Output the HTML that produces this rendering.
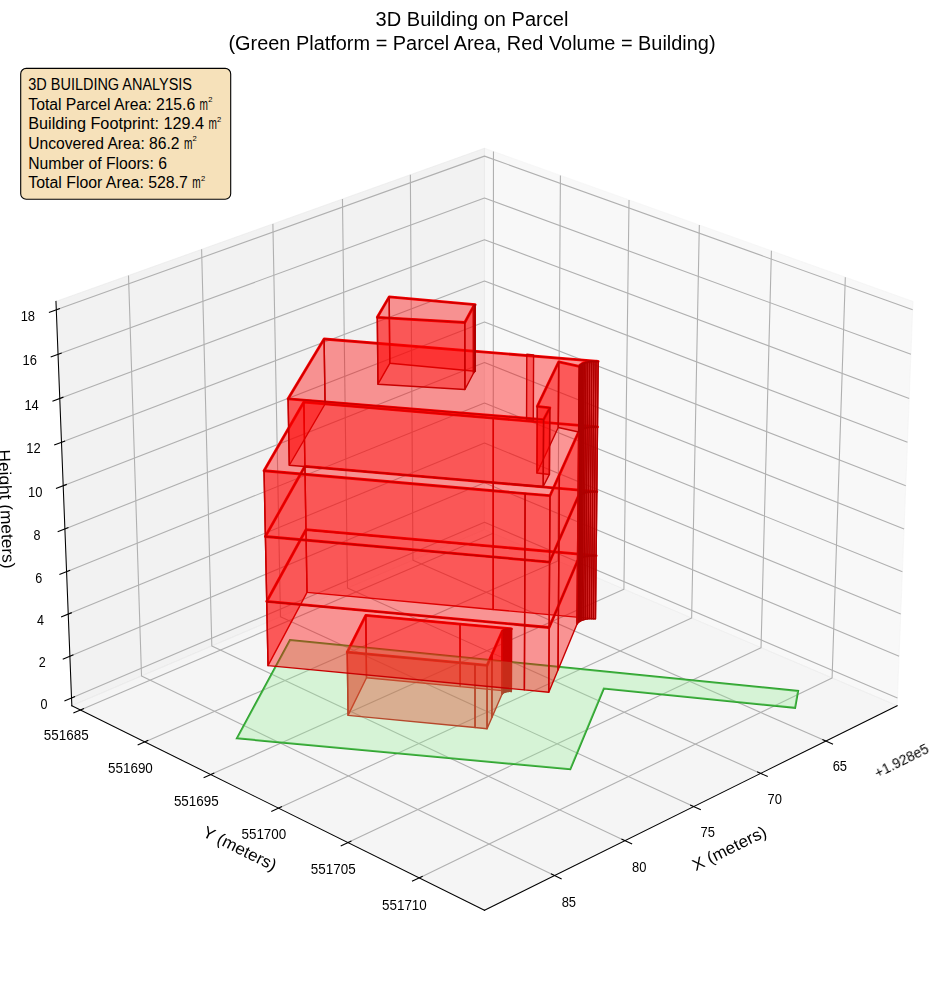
<!DOCTYPE html>
<html><head><meta charset="utf-8"><title>3D Building on Parcel</title>
<style>html,body{margin:0;padding:0;background:#fff}body{width:944px;height:992px;overflow:hidden;font-family:"Liberation Sans",sans-serif}svg{display:block}text{white-space:pre}</style>
</head><body>
<svg width="944" height="992" viewBox="0 0 944 992" font-family="Liberation Sans, sans-serif" fill="#000">
<rect width="944" height="992" fill="#fff"/>
<g id="panes">
<polygon points="484.49,529.66 897.14,705.72 913.01,301.42 484.49,148.24" fill="#f2f2f2" fill-opacity="0.5" stroke="#f2f2f2" stroke-opacity="0.5" stroke-width="1"/>
<polygon points="484.49,529.66 71.83,705.72 55.96,301.42 484.49,148.24" fill="#e6e6e6" fill-opacity="0.5" stroke="#e6e6e6" stroke-opacity="0.5" stroke-width="1"/>
<polygon points="484.49,529.66 71.83,705.72 484.49,910.29 897.14,705.72" fill="#ececec" fill-opacity="0.5" stroke="#ececec" stroke-opacity="0.5" stroke-width="1"/>
<path d="M825.93,741.03 L412.94,560.19 L410.36,174.74 M760.65,773.39 L347.48,588.12 L342.46,199.01 M693.69,806.58 L280.46,616.71 L272.89,223.87 M625,840.63 L211.82,645.99 L201.6,249.36 M554.51,875.58 L141.53,675.99 L128.5,275.49" fill="none" stroke="#b0b0b0" stroke-width="1.1" stroke-linejoin="round"/>
<path d="M493.47,151.45 L493.16,533.36 L80.45,710 M560.42,175.38 L557.77,560.93 L144.78,741.89 M629.03,199.9 L623.92,589.15 L210.74,774.59 M699.33,225.04 L691.65,618.05 L278.41,808.13 M771.41,250.8 L761.03,647.65 L347.86,842.56 M845.32,277.22 L832.1,677.97 L419.14,877.9" fill="none" stroke="#b0b0b0" stroke-width="1.1" stroke-linejoin="round"/>
<path d="M71.52,697.93 L484.49,522.29 L897.45,697.93 M69.89,656.18 L484.49,482.81 L899.09,656.18 M68.23,614.09 L484.49,443.03 L900.74,614.09 M66.57,571.66 L484.49,402.96 L902.41,571.66 M64.89,528.9 L484.49,362.59 L904.08,528.9 M63.2,485.79 L484.49,321.92 L905.78,485.79 M61.49,442.33 L484.49,280.94 L907.48,442.33 M59.77,398.51 L484.49,239.65 L909.2,398.51 M58.04,354.34 L484.49,198.05 L910.94,354.34 M56.29,309.81 L484.49,156.13 L912.68,309.81" fill="none" stroke="#b0b0b0" stroke-width="1.1" stroke-linejoin="round"/>
</g>
<g id="axes">
<path d="M897.14,705.72L484.49,910.29" stroke="#000" stroke-width="1.05" fill="none" stroke-linecap="square"/>
<path d="M822.38,739.47L833.05,744.14 M757.09,771.79L767.77,776.59 M690.13,804.94L700.83,809.86 M621.44,838.95L632.14,844 M550.94,873.85L561.65,879.03" stroke="#000" stroke-width="1.1" fill="none"/>
<path d="M71.83,705.72L484.49,910.29" stroke="#000" stroke-width="1.05" fill="none" stroke-linecap="square"/>
<path d="M84,708.48L73.35,713.04 M148.33,740.33L137.66,745.01 M214.3,772.99L203.62,777.79 M281.98,806.5L271.28,811.42 M351.42,840.88L340.71,845.93 M422.7,876.17L411.99,881.35" stroke="#000" stroke-width="1.1" fill="none"/>
<path d="M71.83,705.72L55.96,301.42" stroke="#000" stroke-width="1.05" fill="none" stroke-linecap="square"/>
<path d="M75.07,696.42L64.41,700.96 M73.45,654.69L62.74,659.16 M71.81,612.62L61.06,617.03 M70.16,570.21L59.37,574.57 M68.5,527.47L57.66,531.76 M66.82,484.38L55.93,488.61 M65.13,440.94L54.19,445.11 M63.43,397.14L52.44,401.25 M61.71,352.99L50.68,357.04 M59.98,308.48L48.9,312.46" stroke="#000" stroke-width="1.1" fill="none"/>
</g>
<g id="outlines">
<polygon points="236.9,738.3 570.3,769.3 603.8,688.6 795.1,707.8 798.1,690.9 290,640" fill="none" stroke="#2ca02c" stroke-width="2.0" stroke-linejoin="miter"/>
<polygon points="347.23,652.22 474.99,664.21 487.08,665.34 491.97,654.35 502.11,631.54 502.38,631.09 502.78,630.66 503.3,630.26 503.94,629.89 504.68,629.57 505.51,629.29 506.41,629.06 507.38,628.88 508.4,628.77 509.43,628.71 510.48,628.71 511.52,628.78 460.03,624.02 365.81,615.31" fill="none" stroke="#ff0000" stroke-width="2.8" stroke-linejoin="round"/>
<polygon points="266.72,601.46 524.63,625.24 549.17,627.5 558.47,605.68 577.5,561 578.02,560.12 578.79,559.29 579.81,558.51 581.06,557.8 582.52,557.16 584.16,556.62 585.95,556.17 587.87,555.84 589.89,555.61 591.96,555.5 594.05,555.51 596.13,555.63 493.22,546.44 305.97,529.71" fill="none" stroke="#ff0000" stroke-width="2.8" stroke-linejoin="round"/>
<polygon points="265.39,536.51 524.88,559.8 549.57,562.02 558.92,540.64 578.06,496.9 578.58,496.04 579.36,495.23 580.38,494.46 581.64,493.76 583.11,493.14 584.76,492.61 586.56,492.18 588.49,491.85 590.52,491.62 592.6,491.52 594.71,491.52 596.8,491.65 493.27,482.65 304.91,466.27" fill="none" stroke="#ff0000" stroke-width="2.8" stroke-linejoin="round"/>
<polygon points="264.04,470.76 525.13,493.55 549.98,495.71 559.38,474.81 578.63,432.02 579.15,431.19 579.93,430.39 580.96,429.64 582.23,428.96 583.7,428.35 585.36,427.83 587.18,427.41 589.12,427.08 591.16,426.87 593.25,426.76 595.37,426.77 597.48,426.89 493.33,418.09 303.84,402.07" fill="none" stroke="#ff0000" stroke-width="2.8" stroke-linejoin="round"/>
<polygon points="288.1,398.8 543.6,419.6 549.8,407.8 537.3,406.4 558.7,361.9 579.2,366.36 579.72,365.54 580.51,364.76 581.55,364.03 582.82,363.36 584.3,362.77 585.97,362.26 587.8,361.85 589.76,361.53 591.81,361.32 593.92,361.22 596.05,361.23 598.16,361.34 324.1,339" fill="none" stroke="#ff0000" stroke-width="2.8" stroke-linejoin="round"/>
<polygon points="377.3,317.3 464.8,322.5 473.4,306.6 474.2,305.4 475.2,304.7 389.2,296.9" fill="none" stroke="#ff0000" stroke-width="2.8" stroke-linejoin="round"/>
</g>
<g id="building">
<g class="annex">
<polygon points="460.17,686.6 366.51,677.73 365.81,615.31 460.03,624.02" fill="#ff0000" fill-opacity="0.4" stroke="#c80000" stroke-width="1.4" stroke-linejoin="round"/>
<polygon points="511.36,691.46 460.17,686.6 460.03,624.02 511.52,628.78" fill="#ff0000" fill-opacity="0.4" stroke="#c80000" stroke-width="1.4" stroke-linejoin="round"/>
<polygon points="509.29,691.38 510.33,691.39 510.48,628.71 509.43,628.71" fill="#ff0000" fill-opacity="0.4" stroke="#ad0000" stroke-width="1.4" stroke-linejoin="round"/>
<polygon points="508.25,691.44 509.29,691.38 509.43,628.71 508.4,628.77" fill="#ff0000" fill-opacity="0.4" stroke="#ad0000" stroke-width="1.4" stroke-linejoin="round"/>
<polygon points="510.33,691.39 511.36,691.46 511.52,628.78 510.48,628.71" fill="#ff0000" fill-opacity="0.4" stroke="#ad0000" stroke-width="1.4" stroke-linejoin="round"/>
<polygon points="507.25,691.56 508.25,691.44 508.4,628.77 507.38,628.88" fill="#ff0000" fill-opacity="0.4" stroke="#ad0000" stroke-width="1.4" stroke-linejoin="round"/>
<polygon points="506.28,691.74 507.25,691.56 507.38,628.88 506.41,629.06" fill="#ff0000" fill-opacity="0.4" stroke="#ad0000" stroke-width="1.4" stroke-linejoin="round"/>
<polygon points="505.38,691.97 506.28,691.74 506.41,629.06 505.51,629.29" fill="#ff0000" fill-opacity="0.4" stroke="#ad0000" stroke-width="1.4" stroke-linejoin="round"/>
<polygon points="504.56,692.26 505.38,691.97 505.51,629.29 504.68,629.57" fill="#ff0000" fill-opacity="0.4" stroke="#ad0000" stroke-width="1.4" stroke-linejoin="round"/>
<polygon points="503.82,692.59 504.56,692.26 504.68,629.57 503.94,629.89" fill="#ff0000" fill-opacity="0.4" stroke="#ad0000" stroke-width="1.4" stroke-linejoin="round"/>
<polygon points="503.19,692.97 503.82,692.59 503.94,629.89 503.3,630.26" fill="#ff0000" fill-opacity="0.4" stroke="#ad0000" stroke-width="1.4" stroke-linejoin="round"/>
<polygon points="502.67,693.38 503.19,692.97 503.3,630.26 502.78,630.66" fill="#ff0000" fill-opacity="0.4" stroke="#ad0000" stroke-width="1.4" stroke-linejoin="round"/>
<polygon points="502.27,693.82 502.67,693.38 502.78,630.66 502.38,631.09" fill="#ff0000" fill-opacity="0.4" stroke="#ad0000" stroke-width="1.4" stroke-linejoin="round"/>
<polygon points="502,694.28 502.27,693.82 502.38,631.09 502.11,631.54" fill="#ff0000" fill-opacity="0.4" stroke="#ad0000" stroke-width="1.4" stroke-linejoin="round"/>
<polygon points="366.51,677.73 348.05,715.35 347.23,652.22 365.81,615.31" fill="#ff0000" fill-opacity="0.4" stroke="#c80000" stroke-width="1.4" stroke-linejoin="round"/>
<polygon points="491.92,717.53 502,694.28 502.11,631.54 491.97,654.35" fill="#ff0000" fill-opacity="0.4" stroke="#c80000" stroke-width="1.4" stroke-linejoin="round"/>
<polygon points="348.05,715.35 475.05,727.57 474.99,664.21 347.23,652.22" fill="#ff0000" fill-opacity="0.4" stroke="#c80000" stroke-width="1.4" stroke-linejoin="round"/>
<polygon points="487.07,728.73 491.92,717.53 491.97,654.35 487.08,665.34" fill="#ff0000" fill-opacity="0.4" stroke="#c80000" stroke-width="1.4" stroke-linejoin="round"/>
<polygon points="475.05,727.57 487.07,728.73 487.08,665.34 474.99,664.21" fill="#ff0000" fill-opacity="0.4" stroke="#c80000" stroke-width="1.4" stroke-linejoin="round"/>
</g>
<g id="parcel">
<polygon points="236.9,738.3 570.3,769.3 603.8,688.6 795.1,707.8 798.1,690.9 290,640" fill="#90ee90" fill-opacity="0.3"/>
</g>
<g class="main">
<polygon points="493.17,609.48 307.02,592.4 305.97,529.71 493.22,546.44" fill="#ff0000" fill-opacity="0.4" stroke="#c80000" stroke-width="1.4" stroke-linejoin="round"/>
<polygon points="595.47,618.86 493.17,609.48 493.22,546.44 596.13,555.63" fill="#ff0000" fill-opacity="0.4" stroke="#c80000" stroke-width="1.4" stroke-linejoin="round"/>
<polygon points="591.32,618.73 593.4,618.73 594.05,555.51 591.96,555.5" fill="#ff0000" fill-opacity="0.4" stroke="#ad0000" stroke-width="1.4" stroke-linejoin="round"/>
<polygon points="589.26,618.84 591.32,618.73 591.96,555.5 589.89,555.61" fill="#ff0000" fill-opacity="0.4" stroke="#ad0000" stroke-width="1.4" stroke-linejoin="round"/>
<polygon points="593.4,618.73 595.47,618.86 596.13,555.63 594.05,555.51" fill="#ff0000" fill-opacity="0.4" stroke="#ad0000" stroke-width="1.4" stroke-linejoin="round"/>
<polygon points="587.26,619.07 589.26,618.84 589.89,555.61 587.87,555.84" fill="#ff0000" fill-opacity="0.4" stroke="#ad0000" stroke-width="1.4" stroke-linejoin="round"/>
<polygon points="585.35,619.41 587.26,619.07 587.87,555.84 585.95,556.17" fill="#ff0000" fill-opacity="0.4" stroke="#ad0000" stroke-width="1.4" stroke-linejoin="round"/>
<polygon points="583.57,619.87 585.35,619.41 585.95,556.17 584.16,556.62" fill="#ff0000" fill-opacity="0.4" stroke="#ad0000" stroke-width="1.4" stroke-linejoin="round"/>
<polygon points="581.93,620.42 583.57,619.87 584.16,556.62 582.52,557.16" fill="#ff0000" fill-opacity="0.4" stroke="#ad0000" stroke-width="1.4" stroke-linejoin="round"/>
<polygon points="580.49,621.07 581.93,620.42 582.52,557.16 581.06,557.8" fill="#ff0000" fill-opacity="0.4" stroke="#ad0000" stroke-width="1.4" stroke-linejoin="round"/>
<polygon points="579.24,621.8 580.49,621.07 581.06,557.8 579.81,558.51" fill="#ff0000" fill-opacity="0.4" stroke="#ad0000" stroke-width="1.4" stroke-linejoin="round"/>
<polygon points="578.23,622.59 579.24,621.8 579.81,558.51 578.79,559.29" fill="#ff0000" fill-opacity="0.4" stroke="#ad0000" stroke-width="1.4" stroke-linejoin="round"/>
<polygon points="577.46,623.44 578.23,622.59 578.79,559.29 578.02,560.12" fill="#ff0000" fill-opacity="0.4" stroke="#ad0000" stroke-width="1.4" stroke-linejoin="round"/>
<polygon points="576.95,624.33 577.46,623.44 578.02,560.12 577.5,561" fill="#ff0000" fill-opacity="0.4" stroke="#ad0000" stroke-width="1.4" stroke-linejoin="round"/>
<polygon points="307.02,592.4 268.03,665.62 266.72,601.46 305.97,529.71" fill="#ff0000" fill-opacity="0.4" stroke="#c80000" stroke-width="1.4" stroke-linejoin="round"/>
<polygon points="558.02,669.92 576.95,624.33 577.5,561 558.47,605.68" fill="#ff0000" fill-opacity="0.4" stroke="#c80000" stroke-width="1.4" stroke-linejoin="round"/>
<polygon points="268.03,665.62 524.38,689.88 524.63,625.24 266.72,601.46" fill="#ff0000" fill-opacity="0.4" stroke="#c80000" stroke-width="1.4" stroke-linejoin="round"/>
<polygon points="548.78,692.19 558.02,669.92 558.47,605.68 549.17,627.5" fill="#ff0000" fill-opacity="0.4" stroke="#c80000" stroke-width="1.4" stroke-linejoin="round"/>
<polygon points="524.38,689.88 548.78,692.19 549.17,627.5 524.63,625.24" fill="#ff0000" fill-opacity="0.4" stroke="#c80000" stroke-width="1.4" stroke-linejoin="round"/>
</g>
<g class="main">
<polygon points="493.22,546.44 305.97,529.71 304.91,466.27 493.27,482.65" fill="#ff0000" fill-opacity="0.4" stroke="#c80000" stroke-width="1.4" stroke-linejoin="round"/>
<polygon points="596.13,555.63 493.22,546.44 493.27,482.65 596.8,491.65" fill="#ff0000" fill-opacity="0.4" stroke="#c80000" stroke-width="1.4" stroke-linejoin="round"/>
<polygon points="591.96,555.5 594.05,555.51 594.71,491.52 592.6,491.52" fill="#ff0000" fill-opacity="0.4" stroke="#ad0000" stroke-width="1.4" stroke-linejoin="round"/>
<polygon points="589.89,555.61 591.96,555.5 592.6,491.52 590.52,491.62" fill="#ff0000" fill-opacity="0.4" stroke="#ad0000" stroke-width="1.4" stroke-linejoin="round"/>
<polygon points="594.05,555.51 596.13,555.63 596.8,491.65 594.71,491.52" fill="#ff0000" fill-opacity="0.4" stroke="#ad0000" stroke-width="1.4" stroke-linejoin="round"/>
<polygon points="587.87,555.84 589.89,555.61 590.52,491.62 588.49,491.85" fill="#ff0000" fill-opacity="0.4" stroke="#ad0000" stroke-width="1.4" stroke-linejoin="round"/>
<polygon points="585.95,556.17 587.87,555.84 588.49,491.85 586.56,492.18" fill="#ff0000" fill-opacity="0.4" stroke="#ad0000" stroke-width="1.4" stroke-linejoin="round"/>
<polygon points="584.16,556.62 585.95,556.17 586.56,492.18 584.76,492.61" fill="#ff0000" fill-opacity="0.4" stroke="#ad0000" stroke-width="1.4" stroke-linejoin="round"/>
<polygon points="582.52,557.16 584.16,556.62 584.76,492.61 583.11,493.14" fill="#ff0000" fill-opacity="0.4" stroke="#ad0000" stroke-width="1.4" stroke-linejoin="round"/>
<polygon points="581.06,557.8 582.52,557.16 583.11,493.14 581.64,493.76" fill="#ff0000" fill-opacity="0.4" stroke="#ad0000" stroke-width="1.4" stroke-linejoin="round"/>
<polygon points="579.81,558.51 581.06,557.8 581.64,493.76 580.38,494.46" fill="#ff0000" fill-opacity="0.4" stroke="#ad0000" stroke-width="1.4" stroke-linejoin="round"/>
<polygon points="578.79,559.29 579.81,558.51 580.38,494.46 579.36,495.23" fill="#ff0000" fill-opacity="0.4" stroke="#ad0000" stroke-width="1.4" stroke-linejoin="round"/>
<polygon points="578.02,560.12 578.79,559.29 579.36,495.23 578.58,496.04" fill="#ff0000" fill-opacity="0.4" stroke="#ad0000" stroke-width="1.4" stroke-linejoin="round"/>
<polygon points="577.5,561 578.02,560.12 578.58,496.04 578.06,496.9" fill="#ff0000" fill-opacity="0.4" stroke="#ad0000" stroke-width="1.4" stroke-linejoin="round"/>
<polygon points="305.97,529.71 266.72,601.46 265.39,536.51 304.91,466.27" fill="#ff0000" fill-opacity="0.4" stroke="#c80000" stroke-width="1.4" stroke-linejoin="round"/>
<polygon points="558.47,605.68 577.5,561 578.06,496.9 558.92,540.64" fill="#ff0000" fill-opacity="0.4" stroke="#c80000" stroke-width="1.4" stroke-linejoin="round"/>
<polygon points="266.72,601.46 524.63,625.24 524.88,559.8 265.39,536.51" fill="#ff0000" fill-opacity="0.4" stroke="#c80000" stroke-width="1.4" stroke-linejoin="round"/>
<polygon points="549.17,627.5 558.47,605.68 558.92,540.64 549.57,562.02" fill="#ff0000" fill-opacity="0.4" stroke="#c80000" stroke-width="1.4" stroke-linejoin="round"/>
<polygon points="524.63,625.24 549.17,627.5 549.57,562.02 524.88,559.8" fill="#ff0000" fill-opacity="0.4" stroke="#c80000" stroke-width="1.4" stroke-linejoin="round"/>
</g>
<g class="main">
<polygon points="493.27,482.65 304.91,466.27 303.84,402.07 493.33,418.09" fill="#ff0000" fill-opacity="0.4" stroke="#c80000" stroke-width="1.4" stroke-linejoin="round"/>
<polygon points="596.8,491.65 493.27,482.65 493.33,418.09 597.48,426.89" fill="#ff0000" fill-opacity="0.4" stroke="#c80000" stroke-width="1.4" stroke-linejoin="round"/>
<polygon points="592.6,491.52 594.71,491.52 595.37,426.77 593.25,426.76" fill="#ff0000" fill-opacity="0.4" stroke="#ad0000" stroke-width="1.4" stroke-linejoin="round"/>
<polygon points="590.52,491.62 592.6,491.52 593.25,426.76 591.16,426.87" fill="#ff0000" fill-opacity="0.4" stroke="#ad0000" stroke-width="1.4" stroke-linejoin="round"/>
<polygon points="594.71,491.52 596.8,491.65 597.48,426.89 595.37,426.77" fill="#ff0000" fill-opacity="0.4" stroke="#ad0000" stroke-width="1.4" stroke-linejoin="round"/>
<polygon points="588.49,491.85 590.52,491.62 591.16,426.87 589.12,427.08" fill="#ff0000" fill-opacity="0.4" stroke="#ad0000" stroke-width="1.4" stroke-linejoin="round"/>
<polygon points="586.56,492.18 588.49,491.85 589.12,427.08 587.18,427.41" fill="#ff0000" fill-opacity="0.4" stroke="#ad0000" stroke-width="1.4" stroke-linejoin="round"/>
<polygon points="584.76,492.61 586.56,492.18 587.18,427.41 585.36,427.83" fill="#ff0000" fill-opacity="0.4" stroke="#ad0000" stroke-width="1.4" stroke-linejoin="round"/>
<polygon points="583.11,493.14 584.76,492.61 585.36,427.83 583.7,428.35" fill="#ff0000" fill-opacity="0.4" stroke="#ad0000" stroke-width="1.4" stroke-linejoin="round"/>
<polygon points="581.64,493.76 583.11,493.14 583.7,428.35 582.23,428.96" fill="#ff0000" fill-opacity="0.4" stroke="#ad0000" stroke-width="1.4" stroke-linejoin="round"/>
<polygon points="580.38,494.46 581.64,493.76 582.23,428.96 580.96,429.64" fill="#ff0000" fill-opacity="0.4" stroke="#ad0000" stroke-width="1.4" stroke-linejoin="round"/>
<polygon points="579.36,495.23 580.38,494.46 580.96,429.64 579.93,430.39" fill="#ff0000" fill-opacity="0.4" stroke="#ad0000" stroke-width="1.4" stroke-linejoin="round"/>
<polygon points="578.58,496.04 579.36,495.23 579.93,430.39 579.15,431.19" fill="#ff0000" fill-opacity="0.4" stroke="#ad0000" stroke-width="1.4" stroke-linejoin="round"/>
<polygon points="578.06,496.9 578.58,496.04 579.15,431.19 578.63,432.02" fill="#ff0000" fill-opacity="0.4" stroke="#ad0000" stroke-width="1.4" stroke-linejoin="round"/>
<polygon points="304.91,466.27 265.39,536.51 264.04,470.76 303.84,402.07" fill="#ff0000" fill-opacity="0.4" stroke="#c80000" stroke-width="1.4" stroke-linejoin="round"/>
<polygon points="558.92,540.64 578.06,496.9 578.63,432.02 559.38,474.81" fill="#ff0000" fill-opacity="0.4" stroke="#c80000" stroke-width="1.4" stroke-linejoin="round"/>
<polygon points="265.39,536.51 524.88,559.8 525.13,493.55 264.04,470.76" fill="#ff0000" fill-opacity="0.4" stroke="#c80000" stroke-width="1.4" stroke-linejoin="round"/>
<polygon points="549.57,562.02 558.92,540.64 559.38,474.81 549.98,495.71" fill="#ff0000" fill-opacity="0.4" stroke="#c80000" stroke-width="1.4" stroke-linejoin="round"/>
<polygon points="524.88,559.8 549.57,562.02 549.98,495.71 525.13,493.55" fill="#ff0000" fill-opacity="0.4" stroke="#c80000" stroke-width="1.4" stroke-linejoin="round"/>
</g>
<g class="f5">
<polygon points="597.48,426.89 325.06,404.01 324.1,339 598.16,361.34" fill="#ff0000" fill-opacity="0.4" stroke="#c80000" stroke-width="1.4" stroke-linejoin="round"/>
<polygon points="526.55,419.58 533.3,420.29 533.6,354.9 526.8,354.2" fill="#ff0000" fill-opacity="0.4" stroke="#c80000" stroke-width="1.4" stroke-linejoin="round"/>
<polygon points="593.25,426.76 595.37,426.77 596.05,361.23 593.92,361.22" fill="#ff0000" fill-opacity="0.4" stroke="#ad0000" stroke-width="1.4" stroke-linejoin="round"/>
<polygon points="591.16,426.87 593.25,426.76 593.92,361.22 591.81,361.32" fill="#ff0000" fill-opacity="0.4" stroke="#ad0000" stroke-width="1.4" stroke-linejoin="round"/>
<polygon points="595.37,426.77 597.48,426.89 598.16,361.34 596.05,361.23" fill="#ff0000" fill-opacity="0.4" stroke="#ad0000" stroke-width="1.4" stroke-linejoin="round"/>
<polygon points="589.12,427.08 591.16,426.87 591.81,361.32 589.76,361.53" fill="#ff0000" fill-opacity="0.4" stroke="#ad0000" stroke-width="1.4" stroke-linejoin="round"/>
<polygon points="587.18,427.41 589.12,427.08 589.76,361.53 587.8,361.85" fill="#ff0000" fill-opacity="0.4" stroke="#ad0000" stroke-width="1.4" stroke-linejoin="round"/>
<polygon points="585.36,427.83 587.18,427.41 587.8,361.85 585.97,362.26" fill="#ff0000" fill-opacity="0.4" stroke="#ad0000" stroke-width="1.4" stroke-linejoin="round"/>
<polygon points="583.7,428.35 585.36,427.83 585.97,362.26 584.3,362.77" fill="#ff0000" fill-opacity="0.4" stroke="#ad0000" stroke-width="1.4" stroke-linejoin="round"/>
<polygon points="582.23,428.96 583.7,428.35 584.3,362.77 582.82,363.36" fill="#ff0000" fill-opacity="0.4" stroke="#ad0000" stroke-width="1.4" stroke-linejoin="round"/>
<polygon points="580.96,429.64 582.23,428.96 582.82,363.36 581.55,364.03" fill="#ff0000" fill-opacity="0.4" stroke="#ad0000" stroke-width="1.4" stroke-linejoin="round"/>
<polygon points="558.25,427.46 578.63,432.02 579.2,366.36 558.7,361.9" fill="#ff0000" fill-opacity="0.4" stroke="#c80000" stroke-width="1.4" stroke-linejoin="round"/>
<polygon points="579.93,430.39 580.96,429.64 581.55,364.03 580.51,364.76" fill="#ff0000" fill-opacity="0.4" stroke="#ad0000" stroke-width="1.4" stroke-linejoin="round"/>
<polygon points="579.15,431.19 579.93,430.39 580.51,364.76 579.72,365.54" fill="#ff0000" fill-opacity="0.4" stroke="#ad0000" stroke-width="1.4" stroke-linejoin="round"/>
<polygon points="578.63,432.02 579.15,431.19 579.72,365.54 579.2,366.36" fill="#ff0000" fill-opacity="0.4" stroke="#ad0000" stroke-width="1.4" stroke-linejoin="round"/>
<polygon points="325.06,404.01 289.3,465.23 288.1,398.8 324.1,339" fill="#ff0000" fill-opacity="0.4" stroke="#c80000" stroke-width="1.4" stroke-linejoin="round"/>
<polygon points="536.97,473.01 558.25,427.46 558.7,361.9 537.3,406.4" fill="#ff0000" fill-opacity="0.4" stroke="#c80000" stroke-width="1.4" stroke-linejoin="round"/>
<polygon points="549.4,474.44 536.97,473.01 537.3,406.4 549.8,407.8" fill="#ff0000" fill-opacity="0.4" stroke="#c80000" stroke-width="1.4" stroke-linejoin="round"/>
<polygon points="289.3,465.23 543.23,486.52 543.6,419.6 288.1,398.8" fill="#ff0000" fill-opacity="0.4" stroke="#c80000" stroke-width="1.4" stroke-linejoin="round"/>
<polygon points="543.23,486.52 549.4,474.44 549.8,407.8 543.6,419.6" fill="#ff0000" fill-opacity="0.4" stroke="#c80000" stroke-width="1.4" stroke-linejoin="round"/>
</g>
<g class="top">
<polygon points="475.26,371.29 389.78,363.29 389.2,296.9 475.2,304.7" fill="#ff0000" fill-opacity="0.4" stroke="#c80000" stroke-width="1.4" stroke-linejoin="round"/>
<polygon points="474.26,372.01 475.26,371.29 475.2,304.7 474.2,305.4" fill="#ff0000" fill-opacity="0.4" stroke="#ad0000" stroke-width="1.4" stroke-linejoin="round"/>
<polygon points="473.47,373.24 474.26,372.01 474.2,305.4 473.4,306.6" fill="#ff0000" fill-opacity="0.4" stroke="#ad0000" stroke-width="1.4" stroke-linejoin="round"/>
<polygon points="389.78,363.29 377.96,384.2 377.3,317.3 389.2,296.9" fill="#ff0000" fill-opacity="0.4" stroke="#c80000" stroke-width="1.4" stroke-linejoin="round"/>
<polygon points="464.92,389.53 473.47,373.24 473.4,306.6 464.8,322.5" fill="#ff0000" fill-opacity="0.4" stroke="#c80000" stroke-width="1.4" stroke-linejoin="round"/>
<polygon points="377.96,384.2 464.92,389.53 464.8,322.5 377.3,317.3" fill="#ff0000" fill-opacity="0.4" stroke="#c80000" stroke-width="1.4" stroke-linejoin="round"/>
</g>
</g>
<g id="labels" opacity="0.999">
<text x="839.87" y="771.17" font-size="14" text-anchor="middle" textLength="14.4" lengthAdjust="spacingAndGlyphs">65</text>
<text x="774.69" y="803.82" font-size="14" text-anchor="middle" textLength="14.4" lengthAdjust="spacingAndGlyphs">70</text>
<text x="707.82" y="837.31" font-size="14" text-anchor="middle" textLength="14.4" lengthAdjust="spacingAndGlyphs">75</text>
<text x="639.23" y="871.67" font-size="14" text-anchor="middle" textLength="14.4" lengthAdjust="spacingAndGlyphs">80</text>
<text x="568.84" y="906.93" font-size="14" text-anchor="middle" textLength="14.4" lengthAdjust="spacingAndGlyphs">85</text>
<text x="66.21" y="740.36" font-size="14" text-anchor="middle" textLength="44.8" lengthAdjust="spacingAndGlyphs">551685</text>
<text x="130.44" y="772.54" font-size="14" text-anchor="middle" textLength="44.8" lengthAdjust="spacingAndGlyphs">551690</text>
<text x="196.3" y="805.53" font-size="14" text-anchor="middle" textLength="44.8" lengthAdjust="spacingAndGlyphs">551695</text>
<text x="263.88" y="839.37" font-size="14" text-anchor="middle" textLength="44.8" lengthAdjust="spacingAndGlyphs">551700</text>
<text x="333.22" y="874.11" font-size="14" text-anchor="middle" textLength="44.8" lengthAdjust="spacingAndGlyphs">551705</text>
<text x="404.4" y="909.76" font-size="14" text-anchor="middle" textLength="44.8" lengthAdjust="spacingAndGlyphs">551710</text>
<text x="44.12" y="709.03" font-size="14" text-anchor="middle" textLength="7" lengthAdjust="spacingAndGlyphs">0</text>
<text x="42.37" y="667.28" font-size="14" text-anchor="middle" textLength="7" lengthAdjust="spacingAndGlyphs">2</text>
<text x="40.61" y="625.19" font-size="14" text-anchor="middle" textLength="7" lengthAdjust="spacingAndGlyphs">4</text>
<text x="38.83" y="582.76" font-size="14" text-anchor="middle" textLength="7" lengthAdjust="spacingAndGlyphs">6</text>
<text x="37.03" y="540" font-size="14" text-anchor="middle" textLength="7" lengthAdjust="spacingAndGlyphs">8</text>
<text x="35.23" y="496.89" font-size="14" text-anchor="middle" textLength="14.4" lengthAdjust="spacingAndGlyphs">10</text>
<text x="33.41" y="453.43" font-size="14" text-anchor="middle" textLength="14.4" lengthAdjust="spacingAndGlyphs">12</text>
<text x="31.58" y="409.61" font-size="14" text-anchor="middle" textLength="14.4" lengthAdjust="spacingAndGlyphs">14</text>
<text x="29.73" y="365.44" font-size="14" text-anchor="middle" textLength="14.4" lengthAdjust="spacingAndGlyphs">16</text>
<text x="27.87" y="320.91" font-size="14" text-anchor="middle" textLength="14.4" lengthAdjust="spacingAndGlyphs">18</text>
<text transform="translate(729.3 848.4) rotate(-26.37)" x="0" y="5.64" font-size="16.6" text-anchor="middle" textLength="80.5" lengthAdjust="spacingAndGlyphs">X (meters)</text>
<text transform="translate(239.8 848.4) rotate(26.37)" x="0" y="5.64" font-size="16.6" text-anchor="middle" textLength="80" lengthAdjust="spacingAndGlyphs">Y (meters)</text>
<text transform="translate(6.3 509) rotate(87.75)" x="0" y="5.78" font-size="17" text-anchor="middle" textLength="119" lengthAdjust="spacingAndGlyphs">Height (meters)</text>
<text transform="translate(901.5 760.6) rotate(-26.37)" x="0" y="4.69" font-size="13.8" text-anchor="middle" textLength="58.5" lengthAdjust="spacingAndGlyphs">+1.928e5</text>
<text x="472" y="25.6" font-size="20" text-anchor="middle" textLength="192.8" lengthAdjust="spacingAndGlyphs">3D Building on Parcel</text>
<text x="472" y="49.6" font-size="20" text-anchor="middle" textLength="487.2" lengthAdjust="spacingAndGlyphs">(Green Platform = Parcel Area, Red Volume = Building)</text>
</g>
<g id="info" opacity="0.999">
<rect x="20.7" y="68.4" width="210" height="130.9" rx="5.5" ry="5.5" fill="#f5deb3" fill-opacity="0.9" stroke="#000" stroke-width="1.1"/>
<text x="28.3" y="90" font-size="16" text-anchor="start" textLength="163.7" lengthAdjust="spacingAndGlyphs">3D BUILDING ANALYSIS</text>
<text x="28.3" y="109.6" font-size="16"><tspan textLength="171.3" lengthAdjust="spacingAndGlyphs">Total Parcel Area: 215.6 </tspan><tspan font-size="16" textLength="8.4" lengthAdjust="spacingAndGlyphs">m</tspan><tspan font-size="7.6" dy="-7.4" dx="0.2">2</tspan></text>
<text x="28.3" y="129.2" font-size="16"><tspan textLength="180.2" lengthAdjust="spacingAndGlyphs">Building Footprint: 129.4 </tspan><tspan font-size="16" textLength="8.4" lengthAdjust="spacingAndGlyphs">m</tspan><tspan font-size="7.6" dy="-7.4" dx="0.2">2</tspan></text>
<text x="28.3" y="148.5" font-size="16"><tspan textLength="155.6" lengthAdjust="spacingAndGlyphs">Uncovered Area: 86.2 </tspan><tspan font-size="16" textLength="8.4" lengthAdjust="spacingAndGlyphs">m</tspan><tspan font-size="7.6" dy="-7.4" dx="0.2">2</tspan></text>
<text x="28.3" y="168.6" font-size="16" text-anchor="start" textLength="138.6" lengthAdjust="spacingAndGlyphs">Number of Floors: 6</text>
<text x="28.3" y="187.9" font-size="16"><tspan textLength="164" lengthAdjust="spacingAndGlyphs">Total Floor Area: 528.7 </tspan><tspan font-size="16" textLength="8.4" lengthAdjust="spacingAndGlyphs">m</tspan><tspan font-size="7.6" dy="-7.4" dx="0.2">2</tspan></text>
</g>
</svg>
</body></html>
